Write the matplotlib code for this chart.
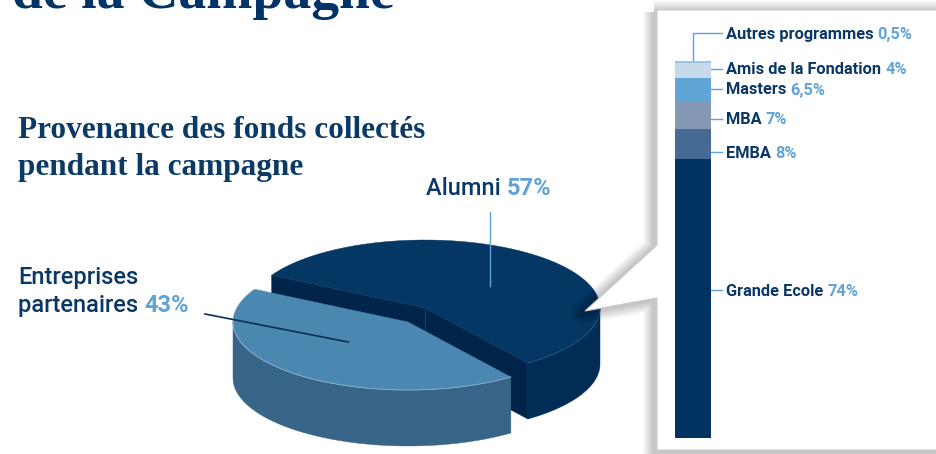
"""Provenance des fonds collectés pendant la campagne : camembert 3D + barre empilée."""

import matplotlib.pyplot as plt
import numpy as np
from matplotlib.patches import Polygon

# Données
pie_labels = ["Alumni", "Entreprises\npartenaires"]
pie_shares = [57, 43]
pie_pct_text = ["57%", "43%"]

bar_labels = ["Grande Ecole", "EMBA", "MBA", "Masters", "Amis de la Fondation", "Autres programmes"]
bar_shares = [74, 8, 7, 6.5, 4, 0.5]
bar_pct_text = ["74%", "8%", "7%", "6,5%", "4%", "0,5%"]

# Couleurs
NAVY = "#0a3764"
LIGHT = "#5fa3d8"
bar_colors = ["#00335f", "#456a93", "#8598b4", "#5fa5d6", "#c6daec", "#9cc4e6"]

W, H = 937, 454
fig = plt.figure(figsize=(W / 100, H / 100), dpi=100)
fig.patch.set_facecolor("white")
ax = fig.add_axes([0, 0, 1, 1])
ax.set_xlim(0, W)
ax.set_ylim(H, 0)
ax.axis("off")
renderer = fig.canvas.get_renderer()

LABEL_FONT = "Roboto"


def two_tone(x, y, first, second, size, w1="medium"):
    t = ax.text(x, y, first + " ", fontsize=size, color=NAVY, family=LABEL_FONT,
                weight=w1, va="baseline", ha="left", zorder=20)
    bb = t.get_window_extent(renderer=renderer)
    x2 = ax.transData.inverted().transform((bb.x1, 0))[0]
    ax.text(x2, y, second, fontsize=size, color=LIGHT, family=LABEL_FONT,
            weight="bold", va="baseline", ha="left", zorder=20)


# En-tête et titre
ax.text(12, 8, "de la Campagne", fontsize=40, family="Liberation Serif", weight="bold",
        color="#003366", va="baseline")
ax.text(18, 138, "Provenance des fonds collectés", fontsize=22.5, family="Liberation Serif",
        weight="bold", color="#0b3a66", va="baseline")
ax.text(18, 175, "pendant la campagne", fontsize=22.5, family="Liberation Serif",
        weight="bold", color="#0b3a66", va="baseline")

# Camembert 3D
cx, cy, ra, rb, depth = 425, 308, 175, 68, 56
start = -54.0
explode = [(0, 0), (-17, 14)]


def pt(t, dx=0, dy=0, z=0):
    r = np.radians(t)
    return (cx + dx + ra * np.cos(r), cy + dy - rb * np.sin(r) + z)


def arc(t0, t1, dx=0, dy=0, z=0, n=80):
    ts = np.linspace(t0, t1, n)
    return [pt(t, dx, dy, z) for t in ts]


bounds = np.cumsum([0] + pie_shares) / 100 * 360 + start
top_cols = ["#043763", "#4a87b1"]
wall_cols = ["#012c56", "#386487"]
cut_col = "#00244a"

# Alumni (arrière)
t0, t1 = bounds[0], bounds[1]
c_top, c_bot = (cx, cy), (cx, cy + depth)
for t in (t1, t0):
    ax.add_patch(Polygon([c_top, pt(t), pt(t, z=depth), c_bot], closed=True,
                         facecolor=cut_col, edgecolor=cut_col, lw=0.3, zorder=2))
ax.plot([cx, cx], [cy, cy + depth], color="#1a4270", lw=0.6, zorder=3)
wall = arc(t0, 0) + arc(0, t0, z=depth)
ax.add_patch(Polygon(wall, closed=True, facecolor=wall_cols[0], edgecolor=wall_cols[0],
                     lw=0.3, zorder=3))
ax.add_patch(Polygon([c_top] + arc(t0, t1), closed=True, facecolor=top_cols[0],
                     edgecolor=top_cols[0], lw=0.3, zorder=4))
ax.plot(*zip(*arc(t0, 0)), color="#2a5a88", lw=0.5, zorder=4)

# Entreprises (avant, décalée)
dx, dy = explode[1]
t0, t1 = bounds[1], bounds[2]
wall = arc(180, t1, dx, dy) + arc(t1, 180, dx, dy, z=depth)
ax.add_patch(Polygon(wall, closed=True, facecolor=wall_cols[1], edgecolor=wall_cols[1],
                     lw=0.3, zorder=5))
ax.add_patch(Polygon([(cx + dx, cy + dy)] + arc(t0, t1, dx, dy), closed=True,
                     facecolor=top_cols[1], edgecolor=top_cols[1], lw=0.3, zorder=6))
ax.plot(*zip(*arc(180, t1, dx, dy)), color="#8fb6d4", lw=0.6, zorder=6)

# Étiquettes du camembert
ax.plot([490, 490], [212, 286], color=LIGHT, lw=1, zorder=7)
two_tone(426, 195, pie_labels[0], pie_pct_text[0], 17)
ax.plot([205, 348], [314, 342], color="#0a2f57", lw=1.2, zorder=7)
ax.text(18, 284, pie_labels[1].split("\n")[0], fontsize=17, color=NAVY, family=LABEL_FONT,
        weight="medium", va="baseline")
two_tone(18, 312, pie_labels[1].split("\n")[1], pie_pct_text[1], 17)

# Encadré (bulle) avec ombre
box = [(657, 10), (960, 10), (960, 450), (657, 450), (657, 298), (585, 311), (657, 245)]
for i in range(10, 0, -1):
    ax.add_patch(Polygon([(x - 3, y + 2) for x, y in box], closed=True, facecolor="none",
                         edgecolor="black", lw=i * 1.6, alpha=0.025, joinstyle="round",
                         zorder=8))
ax.add_patch(Polygon(box, closed=True, facecolor="white", edgecolor="#c8c8c8", lw=0.8,
                     zorder=9))

# Barre empilée
bx0, bx1, by_top, by_bot = 675, 711, 61, 438
bax = fig.add_axes([bx0 / W, 1 - by_bot / H, (bx1 - bx0) / W, (by_bot - by_top) / H])
bax.axis("off")
bottoms = np.concatenate([[0], np.cumsum(bar_shares)[:-1]])
bax.bar(0, bar_shares, bottom=bottoms, width=1.0, color=bar_colors, edgecolor="none")
bax.set_xlim(-0.5, 0.5)
bax.set_ylim(0, 100)

# Étiquettes de la barre (positions en pixels)
label_y = [290, 152, 119, 89, 69, 33]
for name, pct, y in zip(bar_labels, bar_pct_text, label_y):
    if name == "Autres programmes":
        ax.plot([(bx0 + bx1) / 2, (bx0 + bx1) / 2, 722], [by_top, y, y], color=LIGHT,
                lw=1, zorder=10)
    else:
        ax.plot([bx1, 722], [y, y], color=LIGHT, lw=1, zorder=10)
    two_tone(726, y + 5.5, name, pct, 11.8, w1="bold")

fig.savefig("out.png", dpi=100)
